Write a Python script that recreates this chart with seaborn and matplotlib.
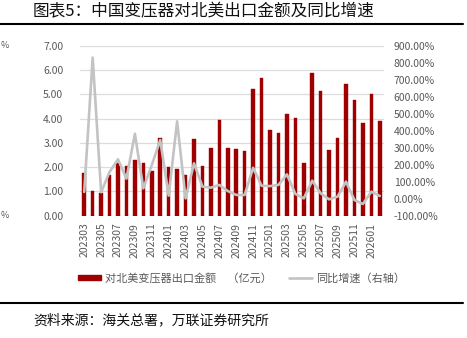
import numpy as np
import pandas as pd
import matplotlib
matplotlib.use("Agg")
import matplotlib.pyplot as plt
from matplotlib.lines import Line2D
from matplotlib.patches import Patch
from matplotlib.ticker import FuncFormatter, MultipleLocator
import seaborn as sns

# Monthly export value of transformers from China to North America (100 million yuan)
months = ["202303", "202304", "202305", "202306", "202307", "202308", "202309", "202310",
          "202311", "202312", "202401", "202402", "202403", "202404", "202405", "202406",
          "202407", "202408", "202409", "202410", "202411", "202412", "202501", "202502",
          "202503", "202504", "202505", "202506", "202507", "202508", "202509", "202510",
          "202511", "202512", "202601", "202602"]
export_value = [1.74, 1.03, 0.92, 1.67, 2.15, 2.04, 2.29, 2.18, 1.84, 3.18, 2.01, 1.92,
                1.67, 3.14, 2.04, 2.77, 3.96, 2.77, 2.74, 2.66, 5.21, 5.68, 3.52, 3.40,
                4.18, 4.03, 2.15, 5.88, 5.14, 2.70, 3.22, 5.41, 4.78, 3.82, 5.00, 3.89]
# Year-over-year growth (%)
yoy_growth = [40, 830, 38, 157, 232, 118, 382, 61, 198, 345, 18, 455,
              2, 208, 71, 65, 81, 45, 22, 22, 182, 76, 74, 81,
              143, 28, 2, 106, 32, -4, 12, 100, -8, -31, 41, 16]

bar_label = "对北美变压器出口金额　（亿元）"
line_label = "同比增速（右轴）"
title = "图表5：中国变压器对北美出口金额及同比增速"
source = "资料来源：海关总署，万联证券研究所"

df = pd.DataFrame({"month": months, "value": export_value, "yoy": yoy_growth})
df["pos"] = np.arange(len(df))

sns.set_theme(style="white")
plt.rcParams["font.family"] = ["Noto Sans CJK SC", "DejaVu Sans"]

BAR = "#9E0000"
LINE = "#C3C3C3"
TXT = "#595959"

fig = plt.figure(figsize=(4.67, 3.38), dpi=100)
ax = fig.add_axes([80 / 467, 1 - 215.7 / 338, 304 / 467, 170 / 338])

sns.barplot(data=df, x="month", y="value", ax=ax, color=BAR, width=0.42,
            saturation=1, edgecolor=BAR, linewidth=0.3, zorder=2)
ax.set_ylim(0, 7)
ax.yaxis.set_major_locator(MultipleLocator(1))
ax.yaxis.set_major_formatter(FuncFormatter(lambda v, p: f"{v:.2f}"))
ax.grid(axis="y", color="#DCDCDC", linewidth=0.9, zorder=0)
ax.grid(axis="x", visible=False)
ax.set_axisbelow(True)
ax.set_xlabel("")
ax.set_ylabel("")
ax.set_xticks(df["pos"][::2])
ax.set_xticklabels(df["month"][::2], rotation=90)
ax.tick_params(axis="x", length=0, pad=5, labelsize=7.5, labelcolor=TXT)
ax.tick_params(axis="y", length=0, pad=12, labelsize=7.5, labelcolor=TXT)
for s in ax.spines.values():
    s.set_visible(False)

ax2 = ax.twinx()
sns.lineplot(data=df, x="pos", y="yoy", ax=ax2, color=LINE, linewidth=1.9, zorder=3)
ax2.set_ylim(-100, 900)
ax2.yaxis.set_major_locator(MultipleLocator(100))
ax2.yaxis.set_major_formatter(FuncFormatter(lambda v, p: f"{v:.2f}%"))
ax2.tick_params(axis="y", length=0, pad=7, labelsize=7.5, labelcolor=TXT)
ax2.set_xlabel("")
ax2.set_ylabel("")
ax2.grid(False)
for s in ax2.spines.values():
    s.set_visible(False)
ax.set_xlim(-0.5, len(df) - 0.5)

handles = [Patch(facecolor=BAR, edgecolor=BAR), Line2D([], [], color=LINE, linewidth=1.9)]
fig.legend(handles, [bar_label, line_label], loc="center", ncol=2,
           bbox_to_anchor=(241.5 / 467, 1 - 278 / 338), frameon=False,
           fontsize=8, labelcolor=TXT, handlelength=2.1, handleheight=0.4,
           handletextpad=0.35, columnspacing=1.5)

fig.text(33 / 467, 1 - 12 / 338, title, ha="left", va="center", fontsize=12,
         fontweight="light", color="#111111")
fig.add_artist(Line2D([0, 463 / 467], [1 - 23.5 / 338] * 2, transform=fig.transFigure,
                      color="black", linewidth=1.5))
fig.add_artist(Line2D([0, 463 / 467], [1 - 302.7 / 338] * 2, transform=fig.transFigure,
                      color="black", linewidth=1.5))
fig.text(33 / 467, 1 - 320 / 338, source, ha="left", va="center", fontsize=10,
         style="italic", color="#111111")

# Percent signs of a neighbouring axis at the left border
fig.text(0.5 / 467, 1 - 46 / 338, "%", ha="left", va="center", fontsize=6.5, color=TXT)
fig.text(0.5 / 467, 1 - 216 / 338, "%", ha="left", va="center", fontsize=6.5, color=TXT)

fig.savefig("out.png", dpi=100)
